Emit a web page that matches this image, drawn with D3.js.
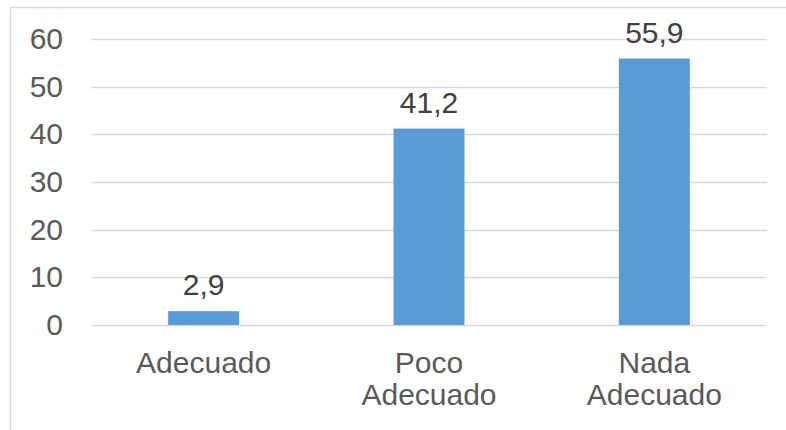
<!DOCTYPE html>
<html>
<head>
<meta charset="utf-8">
<script src="https://cdn.jsdelivr.net/npm/d3@7"></script>
<style>
  body { margin: 0; background: #fff; }
  svg { display: block; font-family: "Liberation Sans", Arial, sans-serif; }
</style>
</head>
<body>
<svg id="chart" width="786" height="430"></svg>
<script>
const categories = [["Adecuado"], ["Poco", "Adecuado"], ["Nada", "Adecuado"]];
const values = [2.9, 41.2, 55.9];
const valueLabels = ["2,9", "41,2", "55,9"];
const yTicks = [0, 10, 20, 30, 40, 50, 60];

const svg = d3.select("#chart");
const width = +svg.attr("width");
const height = +svg.attr("height");

const margin = { top: 39, right: 19, bottom: 105, left: 91 };
const innerWidth = width - margin.left - margin.right;
const innerHeight = height - margin.top - margin.bottom;

// chart frame (only top and left edges are visible in the picture)
svg.append("path")
  .attr("d", `M10.5,${height} V7.5 H${width}`)
  .attr("fill", "none")
  .attr("stroke", "#d9d9d9")
  .attr("stroke-width", 1.5);

const g = svg.append("g")
  .attr("transform", `translate(${margin.left}, ${margin.top})`);

const x = d3.scaleBand()
  .domain(d3.range(categories.length))
  .range([0, innerWidth])
  .padding(0);

const y = d3.scaleLinear()
  .domain([0, 60])
  .range([innerHeight, 0]);

const barWidth = x.bandwidth() * 0.315;
const fontSize = "30px";

// gridlines
g.selectAll(".grid")
  .data(yTicks)
  .join("line")
  .attr("class", "grid")
  .attr("x1", 0)
  .attr("x2", innerWidth)
  .attr("y1", d => Math.round(y(d)) + 0.5)
  .attr("y2", d => Math.round(y(d)) + 0.5)
  .attr("stroke", "#d9d9d9")
  .attr("stroke-width", 1.5);

// y tick labels
g.selectAll(".ytick")
  .data(yTicks)
  .join("text")
  .attr("class", "ytick")
  .attr("x", -28)
  .attr("y", d => y(d) + 10)
  .attr("text-anchor", "end")
  .attr("font-size", fontSize)
  .attr("fill", "#595959")
  .text(d => d);

// bars
g.selectAll(".bar")
  .data(values)
  .join("rect")
  .attr("class", "bar")
  .attr("x", (d, i) => x(i) + (x.bandwidth() - barWidth) / 2)
  .attr("y", d => y(d))
  .attr("width", barWidth)
  .attr("height", d => y(0) - y(d))
  .attr("fill", "#5b9bd5");

// value labels
g.selectAll(".vlabel")
  .data(values)
  .join("text")
  .attr("class", "vlabel")
  .attr("x", (d, i) => x(i) + x.bandwidth() / 2)
  .attr("y", d => y(d) - 16)
  .attr("text-anchor", "middle")
  .attr("font-size", fontSize)
  .attr("fill", "#404040")
  .text((d, i) => valueLabels[i]);

// category labels
const cat = g.selectAll(".cat")
  .data(categories)
  .join("text")
  .attr("class", "cat")
  .attr("text-anchor", "middle")
  .attr("font-size", fontSize)
  .attr("fill", "#595959");

cat.selectAll("tspan")
  .data((d, i) => d.map(line => ({ line, i })))
  .join("tspan")
  .attr("x", d => x(d.i) + x.bandwidth() / 2)
  .attr("y", (d, j) => innerHeight + 48 + j * 31.5)
  .text(d => d.line);
</script>
</body>
</html>
